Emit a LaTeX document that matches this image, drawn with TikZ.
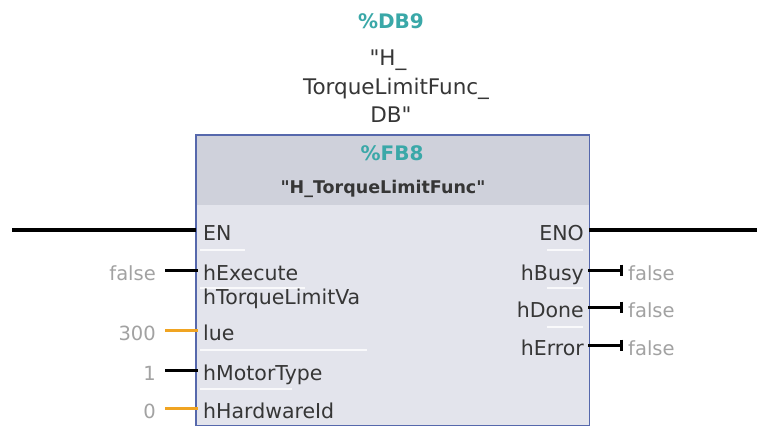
\documentclass[tikz,border=0pt]{standalone}
\usepackage{fontspec}
\setmainfont{DejaVu Sans}
\newfontfamily\dv{DejaVu Sans}
\usetikzlibrary{arrows.meta,calc}
\definecolor{teal1}{HTML}{3AA8A8}
\definecolor{txt}{HTML}{363636}
\definecolor{valgray}{HTML}{A2A2A2}
\definecolor{bodyfill}{HTML}{E3E4EC}
\definecolor{hdrfill}{HTML}{CFD1DB}
\definecolor{bordercol}{HTML}{5668AC}
\definecolor{orangewire}{HTML}{F0A422}
\tikzset{
  pinlbl/.style={inner sep=0pt, text=txt, font=\dv\fontsize{20.5}{24}\selectfont},
  toplbl/.style={inner sep=0pt, text=txt, anchor=base, font=\dv\fontsize{21.5}{24}\selectfont},
  vallbl/.style={inner sep=0pt, text=valgray, font=\dv\fontsize{19.5}{22}\selectfont},
  wire/.style={line width=3pt, black},
  owire/.style={line width=3pt, orangewire},
  power/.style={line width=3.5pt, black},
  outwire/.style={line width=3pt, black, -{Bar[width=11pt,line width=3pt]}},
  sep/.style={white, line width=1.5pt, opacity=0.8},
}
\begin{document}
\begin{tikzpicture}[x=1pt,y=-1pt]
\useasboundingbox[fill=white] (0,0) rectangle (757,426);

% instance DB
\node[inner sep=0pt, text=teal1, anchor=base, font=\dv\fontsize{20}{24}\bfseries\selectfont] (dbnum) at (391,28) {\%DB9};
\node[toplbl] (dbA) at (388,65) {"H\_};
\node[toplbl] (dbB) at (396,94) {TorqueLimitFunc\_};
\node[toplbl] (dbC) at (391,122) {DB"};

% block
\node[draw=none, fill=bodyfill, minimum width=393pt, minimum height=290pt, anchor=north west, inner sep=0pt] (blk) at (196,135) {};
\fill[hdrfill] (blk.north west) rectangle ($(blk.north east)+(0,70)$);
\draw[bordercol, line width=1.8pt] (blk.north west) rectangle (blk.south east);

\node[inner sep=0pt, text=teal1, anchor=base, font=\dv\fontsize{20}{24}\bfseries\selectfont] (fbnum) at (392,160) {\%FB8};
\node[inner sep=0pt, text=txt, anchor=base, font=\dv\fontsize{17.5}{24}\bfseries\selectfont] (fbname) at (383,193) {"H\_TorqueLimitFunc"};

% separators
\draw[sep] (200,250) -- (245,250);
\draw[sep] (200,288) -- (305,288);
\draw[sep] (200,350) -- (367,350);
\draw[sep] (200,389) -- (292,389);
\draw[sep] (547,250) -- (583,250);
\draw[sep] (547,288) -- (583,288);
\draw[sep] (547,327) -- (583,327);

% input pins
\node[pinlbl, anchor=base west] (pEN) at (203,240) {EN};
\node[pinlbl, anchor=base west] (pExec) at (203,280) {hExecute};
\node[pinlbl, anchor=base west] (pTLa) at (203,304) {hTorqueLimitVa};
\node[pinlbl, anchor=base west] (pTLb) at (203,340) {lue};
\node[pinlbl, anchor=base west] (pMot) at (203,380) {hMotorType};
\node[pinlbl, anchor=base west] (pHw) at (203,418) {hHardwareId};

% output pins
\node[pinlbl, anchor=base east] (pENO) at (584,240) {ENO};
\node[pinlbl, anchor=base east] (pBusy) at (584,280) {hBusy};
\node[pinlbl, anchor=base east] (pDone) at (584,317) {hDone};
\node[pinlbl, anchor=base east] (pErr) at (584,355) {hError};

% input values
\node[vallbl, anchor=base east] (vExec) at (156,280) {false};
\node[vallbl, anchor=base east] (vTL) at (156,340) {300};
\node[vallbl, anchor=base east] (vMot) at (156,380) {1};
\node[vallbl, anchor=base east] (vHw) at (156,418) {0};

% output values
\node[vallbl, anchor=base west] (oBusy) at (628,280) {false};
\node[vallbl, anchor=base west] (oDone) at (628,317) {false};
\node[vallbl, anchor=base west] (oErr) at (628,355) {false};

% power rail
\coordinate (enL) at (12,230);
\coordinate (enoR) at (757,230);
\draw[power] (enL) -- (enL -| blk.west);
\draw[power] (enoR -| blk.east) -- (enoR);

% input wires
\draw[wire] ($(vExec.base east)+(9,-10)$) -- ($(pExec.base west)+(-5,-10)$);
\draw[owire] ($(vTL.base east)+(9,-10)$) -- ($(pTLb.base west)+(-5,-10)$);
\draw[wire] ($(vMot.base east)+(9,-10)$) -- ($(pMot.base west)+(-5,-10)$);
\draw[owire] ($(vHw.base east)+(9,-10)$) -- ($(pHw.base west)+(-5,-10)$);

% output wires
\draw[outwire] ($(pBusy.base east)+(4,-10)$) -- ($(oBusy.base west)+(-5,-10)$);
\draw[outwire] ($(pDone.base east)+(4,-10)$) -- ($(oDone.base west)+(-5,-10)$);
\draw[outwire] ($(pErr.base east)+(4,-10)$) -- ($(oErr.base west)+(-5,-10)$);
\end{tikzpicture}
\end{document}
